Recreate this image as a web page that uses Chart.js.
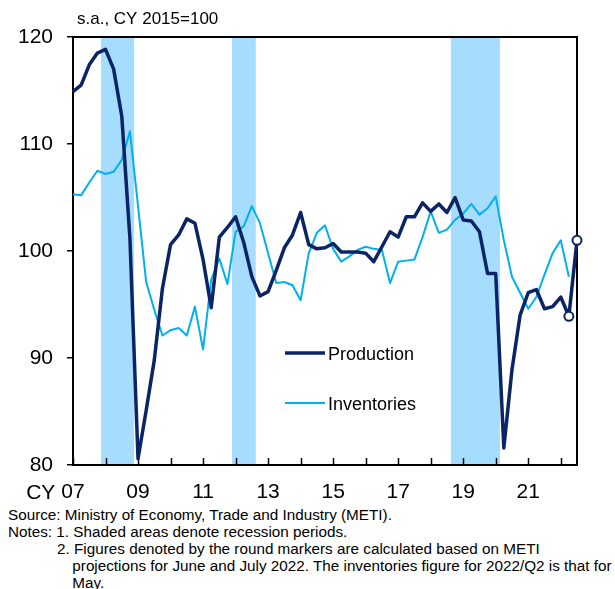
<!DOCTYPE html>
<html>
<head>
<meta charset="utf-8">
<script src="https://cdn.jsdelivr.net/npm/chart.js@4/dist/chart.umd.min.js"></script>
<style>
  body{margin:0;background:#fff;font-family:"Liberation Sans",Arial,sans-serif;}
  #wrap{position:relative;width:615px;height:589px;overflow:hidden;}
  #notes{position:absolute;left:8px;top:507px;width:560px;font-size:14px;line-height:17px;color:#000;white-space:nowrap;transform:scaleX(1.09);transform-origin:0 0;}
</style>
</head>
<body>
<div id="wrap">
  <canvas id="data_chart" width="615" height="505"></canvas>
  <div id="notes">
    <div>Source: Ministry of Economy, Trade and Industry (METI).</div>
    <div>Notes: 1. Shaded areas denote recession periods.</div>
    <div style="padding-left:45px">2. Figures denoted by the round markers are calculated based on METI</div>
    <div style="padding-left:59px">projections for June and July 2022. The inventories figure for 2022/Q2 is that for</div>
    <div style="padding-left:59px">May.</div>
  </div>
</div>
<script>
// quarterly data, 2007/Q1 .. 2022/Q3
const firstYear = 2007
const production = [114.9,115.5,117.4,118.5,118.85,117.0,112.6,101.2,80.6,85.1,89.8,96.5,
  100.6,101.5,103.0,102.6,99.2,94.7,101.3,102.2,103.2,100.8,97.6,95.8,
  96.2,98.2,100.3,101.5,103.6,100.6,100.2,100.3,100.7,99.9,99.9,99.9,
  99.8,99.0,100.4,101.8,101.3,103.2,103.2,104.5,103.7,104.4,103.6,105.0,
  102.9,102.8,101.8,97.9,97.9,81.6,88.9,94.0,96.1,96.4,94.6,94.8,
  95.7,93.9,101.0]
const inventories = [105.3,105.2,106.4,107.5,107.2,107.4,108.5,111.2,104.2,97.1,94.5,92.1,
  92.6,92.8,92.1,94.8,90.8,97.3,99.3,96.9,101.8,102.3,104.2,102.6,
  99.8,97.0,97.1,96.8,95.4,99.8,101.7,102.4,100.2,99.0,99.5,100.1,
  100.4,100.2,100.1,97.0,99.0,99.1,99.2,101.3,103.7,101.7,102.0,102.9,
  103.5,104.4,103.4,104.0,105.1,101.0,97.6,96.1,94.6,95.7,97.8,99.8,
  101.0,97.6]
const markerCount = 2   // last production points are projections
const recessions = [[2007.86,2008.88],[2011.89,2012.62],[2018.62,2020.13]]
const tickYears = [2007,2008,2009,2010,2011,2012,2013,2014,2015,2016,2017,2018,2019,2020,2021,2022]
const labelYears = [2007,2009,2011,2013,2015,2017,2019,2021]
const yTicks = [80,90,100,110,120]

const navy = '#0b2466'
const sky = '#00b0f0'
const shade = '#a6ddfe'
const font = '"Liberation Sans", Arial, sans-serif'

const prodPts = production.map((v,i)=>({x:firstYear+i/4, y:v}))
const invPts = inventories.map((v,i)=>({x:firstYear+i/4, y:v}))

const decor = {
  id:'decor',
  beforeDatasetsDraw(chart){
    const ctx=chart.ctx, a=chart.chartArea, xs=chart.scales.x
    ctx.save()
    ctx.fillStyle=shade
    recessions.forEach(r=>{
      const x1=xs.getPixelForValue(r[0]), x2=xs.getPixelForValue(r[1])
      ctx.fillRect(x1,a.top,x2-x1,a.bottom-a.top)
    })
    ctx.strokeStyle='#000'
    ctx.lineWidth=2
    ctx.strokeRect(a.left,a.top,a.right-a.left,a.bottom-a.top)
    // inward year ticks
    ctx.lineWidth=1.5
    tickYears.forEach(y=>{
      const x=Math.round(xs.getPixelForValue(y))+0.5
      ctx.beginPath(); ctx.moveTo(x,a.bottom); ctx.lineTo(x,a.bottom-7); ctx.stroke()
    })
    ctx.restore()
  },
  afterDraw(chart){
    const ctx=chart.ctx, xs=chart.scales.x
    ctx.save()
    ctx.fillStyle='#000'
    ctx.font='21px '+font
    ctx.textBaseline='middle'
    ctx.textAlign='right'
    const x07=xs.getPixelForValue(firstYear)
    ctx.fillText('CY', x07-ctx.measureText('07').width/2-6, 493)
    // subtitle
    ctx.font='17px '+font
    ctx.textAlign='left'
    ctx.fillText('s.a., CY 2015=100', 77, 19)
    // legend
    const items=[[chart.data.datasets[0],353],[chart.data.datasets[1],403]]
    ctx.font='18px '+font
    items.forEach(it=>{
      const ds=it[0], y=it[1]
      ctx.strokeStyle=ds.borderColor
      ctx.lineWidth=ds.borderWidth
      ctx.beginPath(); ctx.moveTo(285,y); ctx.lineTo(325,y); ctx.stroke()
      ctx.fillStyle='#000'
      ctx.fillText(ds.label, 328, y+2)
    })
    ctx.restore()
  }
}

const data_chart = new Chart('data_chart',{
  type:'line',
  data:{
    datasets:[{
      label:'Production',
      data:prodPts,
      borderColor:navy,
      borderWidth:3.5,
      borderJoinStyle:'round',
      pointRadius:c=>c.dataIndex>=production.length-markerCount?4.5:0,
      pointBackgroundColor:'#fff',
      pointBorderColor:navy,
      pointBorderWidth:2,
      tension:0,
      clip:false,
      order:1
    },{
      label:'Inventories',
      data:invPts,
      borderColor:sky,
      borderWidth:2,
      borderJoinStyle:'round',
      pointRadius:0,
      tension:0,
      order:2
    }]
  },
  options:{
    responsive:false,
    animation:false,
    layout:{padding:{top:37,right:38,left:0,bottom:0}},
    plugins:{legend:{display:false},tooltip:{enabled:false}},
    scales:{
      x:{
        type:'linear',
        min:firstYear,
        max:2022.5,
        afterBuildTicks:s=>{s.ticks=tickYears.map(v=>({value:v}))},
        afterFit:s=>{s.height=40},
        grid:{display:false,drawTicks:false},
        border:{display:false},
        ticks:{
          autoSkip:false,
          maxRotation:0,
          padding:15,
          color:'#000',
          font:{family:font,size:21},
          callback:v=>labelYears.includes(v)?String(v).slice(2):''
        }
      },
      y:{
        min:80,
        max:120,
        afterBuildTicks:s=>{s.ticks=yTicks.map(v=>({value:v}))},
        afterFit:s=>{s.width=73},
        grid:{drawOnChartArea:false,drawTicks:true,tickLength:6,color:'#000',lineWidth:1.5},
        border:{display:false},
        ticks:{padding:14,color:'#000',font:{family:font,size:21}}
      }
    }
  },
  plugins:[decor]
})
</script>
</body>
</html>
